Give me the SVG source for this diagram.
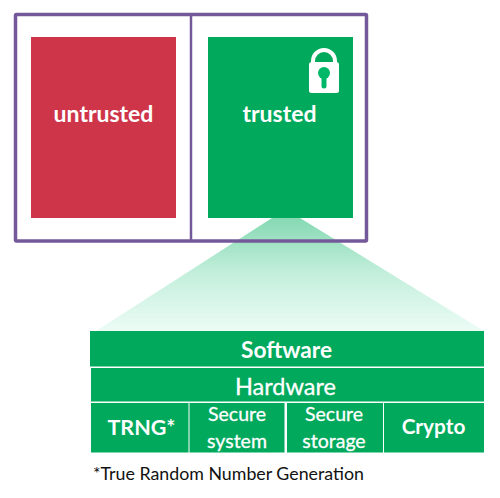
<svg xmlns="http://www.w3.org/2000/svg" width="500" height="498" viewBox="0 0 500 498">
<style>
text{font-family:"Lato","Noto Sans",sans-serif;fill:#fff;text-anchor:middle}
.b{font-weight:700}
.m{stroke:#fff;stroke-width:0.3}
.band{fill:#00a95c}
.frame{stroke:#74599a;stroke-width:3.500;fill:none}
</style>
<defs>
<linearGradient id="g" x1="0" y1="0" x2="0" y2="1">
<stop offset="0" stop-color="#86d9b3"/>
<stop offset="0.5" stop-color="#c4efdc"/>
<stop offset="1" stop-color="#ecfcf6"/>
</linearGradient>
</defs>
<g id="beam"><polygon points="272,218 300,218 484,331 96,331" fill="url(#g)"/></g>
<g id="connectors">
<rect class="frame" x="15.500" y="14.500" width="351" height="226.500" rx="1"/>
<line x1="191" y1="14.500" x2="191" y2="241" stroke="#74599a" stroke-width="2.500"/>
</g>
<g id="untrusted">
<rect x="31" y="37" width="145" height="181" fill="#cf3549"/>
<text x="103.500" y="122" font-size="23" class="b">untrusted</text>
</g>
<g id="trusted">
<rect x="208" y="37" width="145" height="181" fill="#00a95c"/>
<text x="279.500" y="122" font-size="23" class="b">trusted</text>
<g id="lock">
<path d="M313 64V61a11 11 0 0 1 22 0V64" fill="none" stroke="#fff" stroke-width="4"/>
<rect x="309" y="62" width="30" height="31" rx="2.500" fill="#fff"/>
<circle cx="324" cy="73" r="6" fill="#00b868"/>
<path d="M324 75V86" stroke="#00b868" stroke-width="5" stroke-linecap="round"/>
</g>
</g>
<g id="software">
<rect class="band" x="90" y="331" width="394" height="35.500"/>
<text x="286.500" y="358" font-size="22.700" class="b">Software</text>
</g>
<g id="hardware">
<rect class="band" x="91" y="368" width="393" height="33.500"/>
<text x="285.500" y="395" font-size="23.500" class="m">Hardware</text>
</g>
<g id="trng">
<rect class="band" x="91" y="403" width="97.500" height="49.500"/>
<text x="141.500" y="434.500" font-size="21.500" class="b">TRNG*</text>
</g>
<g id="secure-system">
<rect class="band" x="189.500" y="403" width="95" height="49.500"/>
<text x="237" y="421" font-size="19.500" class="m">Secure</text>
<text x="237" y="448" font-size="19.500" class="m">system</text>
</g>
<g id="secure-storage">
<rect class="band" x="287" y="403" width="96" height="49.500"/>
<text x="334" y="421" font-size="19.500" class="m">Secure</text>
<text x="334" y="448" font-size="19.500" class="m">storage</text>
</g>
<g id="crypto">
<rect class="band" x="384" y="403" width="100" height="49.500"/>
<text x="433.500" y="434" font-size="20.800" class="b">Crypto</text>
</g>
<g id="footnote">
<text x="228.500" y="480" font-size="17.800" style="fill:#111">*True Random Number Generation</text>
</g>
</svg>
